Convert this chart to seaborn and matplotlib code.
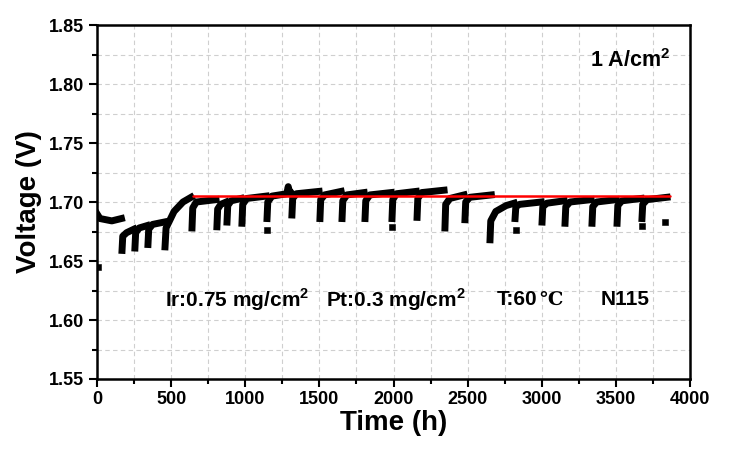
import pandas as pd
import seaborn as sns
import matplotlib.pyplot as plt
from matplotlib.ticker import MultipleLocator

# durability test: voltage teeth (segment, time h, voltage V)
seg = (["A"] * 4 + ["B"] * 4 + ["C"] * 4 + ["D"] * 4 + ["E"] * 5 + ["F"] * 4 + ["G"] * 4
       + ["H"] * 4 + ["I"] * 4 + ["J"] * 7 + ["K"] * 4 + ["L"] * 4 + ["M"] * 4 + ["N"] * 4
       + ["O"] * 4 + ["P"] * 4 + ["Q"] * 4 + ["R"] * 4 + ["S"] * 5 + ["T"] * 4 + ["U"] * 4
       + ["V"] * 4 + ["W"] * 4 + ["X"] * 4 + ["Y"] * 4)
time_h = [0, 20, 100, 165,
          169, 174, 200, 250,
          256, 261, 285, 338,
          344, 349, 375, 453,
          459, 466, 520, 580, 635,
          641, 646, 670, 803,
          809, 814, 835, 872,
          877, 882, 905, 972,
          978, 983, 1010, 1141,
          1147, 1152, 1180, 1280, 1290, 1300, 1309,
          1315, 1320, 1345, 1498,
          1504, 1509, 1535, 1647,
          1653, 1658, 1685, 1802,
          1808, 1813, 1840, 1984,
          1990, 1995, 2020, 2153,
          2159, 2164, 2190, 2341,
          2347, 2352, 2380, 2476,
          2482, 2487, 2515, 2660,
          2651, 2656, 2690, 2760, 2814,
          2820, 2825, 2850, 2996,
          3002, 3007, 3035, 3151,
          3157, 3162, 3190, 3333,
          3339, 3344, 3370, 3502,
          3508, 3513, 3540, 3670,
          3676, 3681, 3710, 3845]
voltage = [1.690, 1.686, 1.684, 1.686,
           1.659, 1.671, 1.674, 1.677,
           1.661, 1.674, 1.678, 1.680,
           1.664, 1.677, 1.681, 1.683,
           1.662, 1.678, 1.692, 1.700, 1.704,
           1.678, 1.695, 1.700, 1.702,
           1.679, 1.694, 1.698, 1.700,
           1.683, 1.697, 1.701, 1.703,
           1.682, 1.698, 1.703, 1.705,
           1.686, 1.700, 1.705, 1.707, 1.713, 1.707, 1.708,
           1.689, 1.703, 1.707, 1.709,
           1.686, 1.702, 1.706, 1.709,
           1.686, 1.701, 1.706, 1.708,
           1.686, 1.701, 1.706, 1.708,
           1.686, 1.702, 1.707, 1.709,
           1.687, 1.703, 1.708, 1.710,
           1.678, 1.698, 1.703, 1.706,
           1.685, 1.700, 1.704, 1.706,
           1.668, 1.684, 1.692, 1.697, 1.699,
           1.686, 1.696, 1.698, 1.700,
           1.683, 1.696, 1.699, 1.701,
           1.682, 1.696, 1.700, 1.702,
           1.682, 1.696, 1.700, 1.702,
           1.682, 1.697, 1.701, 1.703,
           1.686, 1.698, 1.702, 1.704]

# stray single readings
dot_time = [8, 1150, 1993, 2823, 3679, 3831]
dot_voltage = [1.645, 1.676, 1.679, 1.676, 1.680, 1.683]

# reference line
ref_time = [650, 3865]
ref_voltage = [1.705, 1.705]

df = pd.DataFrame({"seg": seg, "time": time_h, "voltage": voltage})
dots = pd.DataFrame({"time": dot_time, "voltage": dot_voltage})
ref = pd.DataFrame({"time": ref_time, "voltage": ref_voltage})

sns.set_theme(style="ticks")
plt.rcParams["font.family"] = ["Liberation Sans", "DejaVu Sans"]
plt.rcParams["font.weight"] = "bold"
plt.rcParams["text.color"] = "black"
plt.rcParams["axes.labelcolor"] = "black"
plt.rcParams["xtick.color"] = "black"
plt.rcParams["ytick.color"] = "black"
plt.rcParams["mathtext.fontset"] = "custom"
plt.rcParams["mathtext.rm"] = "Liberation Sans"
plt.rcParams["mathtext.bf"] = "Liberation Sans:bold"

fig = plt.figure(figsize=(7.38, 4.54), dpi=100)
ax = fig.add_axes([0.1314, 0.1652, 0.8036, 0.7797])

sns.lineplot(data=df, x="time", y="voltage", units="seg", estimator=None, sort=False,
             color="black", linewidth=5, solid_capstyle="projecting", ax=ax, zorder=3)
sns.scatterplot(data=dots, x="time", y="voltage", marker="s", s=25, color="black",
                edgecolor="black", ax=ax, zorder=3)
sns.lineplot(data=ref, x="time", y="voltage", color="red", linewidth=1.8, ax=ax, zorder=4)

ax.set_xlim(0, 4000)
ax.set_ylim(1.55, 1.85)
ax.xaxis.set_major_locator(MultipleLocator(500))
ax.xaxis.set_minor_locator(MultipleLocator(250))
ax.yaxis.set_major_locator(MultipleLocator(0.05))
ax.yaxis.set_minor_locator(MultipleLocator(0.025))
ax.yaxis.set_major_formatter(plt.FormatStrFormatter("%.2f"))

ax.grid(which="both", color="#cfcfcf", linestyle=(0, (4, 3)), linewidth=0.8)
ax.set_axisbelow(True)
for sp in ax.spines.values():
    sp.set_linewidth(1.8)
    sp.set_color("black")
ax.tick_params(which="major", direction="out", length=6, width=1.5, labelsize=13, pad=3)
ax.tick_params(which="minor", direction="out", length=3.5, width=1.5)
for lab in ax.get_xticklabels() + ax.get_yticklabels():
    lab.set_fontweight("bold")

ax.set_xlabel("Time (h)", fontsize=20, fontweight="bold", labelpad=1)
ax.set_ylabel("Voltage (V)", fontsize=20, fontweight="bold", labelpad=5)

ax.text(3870, 1.820, r"1 A/cm$^\mathbf{2}$", fontsize=15.5, fontweight="bold",
        ha="right", va="center")
ax.text(459, 1.617, r"Ir:0.75 mg/cm$^\mathbf{2}$", fontsize=15, fontweight="bold", va="center")
ax.text(1545, 1.617, r"Pt:0.3 mg/cm$^\mathbf{2}$", fontsize=15, fontweight="bold", va="center")
ax.text(2698, 1.617, "T:60", fontsize=15, fontweight="bold", va="center")
ax.text(2985, 1.617, "℃", fontsize=14, va="center", family=["DejaVu Serif", "DejaVu Sans"])
ax.text(3400, 1.617, "N115", fontsize=15, fontweight="bold", va="center")

fig.savefig("out.png", dpi=100)
